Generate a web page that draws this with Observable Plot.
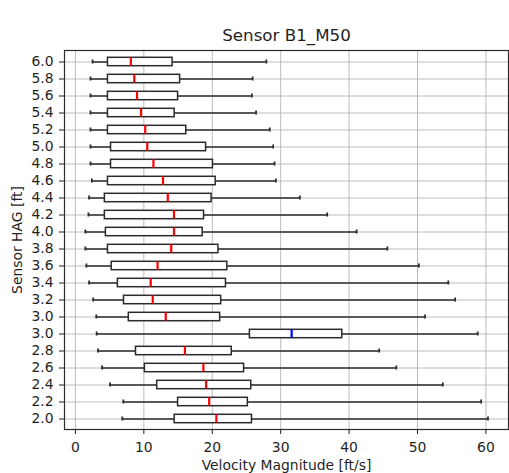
<!DOCTYPE html>
<html>
<head>
<meta charset="utf-8">
<script src="https://cdn.jsdelivr.net/npm/d3@7"></script>
<script src="https://cdn.jsdelivr.net/npm/@observablehq/plot@0.6"></script>
<style>
  html, body { margin: 0; padding: 0; background: white; }
</style>
</head>
<body>
<div id="chart"></div>
<script>
// Sensor heights (top to bottom as drawn)
const labels = ["6.0","5.8","5.6","5.4","5.2","5.0","4.8","4.6","4.4","4.2","4.0","3.8","3.6","3.4","3.2","3.0","3.0","2.8","2.6","2.4","2.2","2.0"];
const whiskerLow  = [2.5,2.2,2.2,2.2,2.2,2.2,2.2,2.4,2.0,1.9,1.45,1.45,1.6,2.0,2.6,3.05,3.1,3.3,3.9,5.05,7.0,6.85];
const quart1      = [4.75,4.75,4.75,4.75,4.75,5.2,5.2,4.75,4.3,4.3,4.45,4.75,5.3,6.2,7.1,7.8,25.5,8.85,10.15,11.95,15.0,14.5];
const medians     = [8.1,8.6,9.0,9.6,10.2,10.5,11.4,12.8,13.5,14.4,14.4,14.0,12.0,11.0,11.3,13.2,31.6,16.0,18.7,19.1,19.55,20.6];
const quart3      = [14.2,15.3,15.0,14.5,16.2,19.1,20.1,20.5,19.9,18.8,18.6,20.9,22.2,22.0,21.3,21.15,39.0,22.85,24.65,25.7,25.2,25.8];
const whiskerHigh = [27.9,25.9,25.8,26.4,28.4,28.9,29.1,29.3,32.8,36.8,41.1,45.6,50.2,54.5,55.5,51.1,58.8,44.4,46.9,53.7,59.3,60.3];
const group       = ["normal","normal","normal","normal","normal","normal","normal","normal","normal","normal","normal","normal","normal","normal","normal","normal","flagged","normal","normal","normal","normal","normal"];
const xTicks = [0, 10, 20, 30, 40, 50, 60];
const title = "Sensor B1_M50";
const xLabel = "Velocity Magnitude [ft/s]";
const yLabel = "Sensor HAG [ft]";

const rows = labels.map((label, i) => ({
  id: i, label,
  lo: whiskerLow[i], q1: quart1[i], med: medians[i], q3: quart3[i], hi: whiskerHigh[i],
  group: group[i]
}));

const ink = "#2b2b2b";
const chart = Plot.plot({
  width: 509,
  height: 473,
  marginTop: 50,
  marginBottom: 44,
  marginLeft: 64,
  marginRight: 1,
  style: { fontFamily: "DejaVu Sans", fontSize: "13.9px", color: "#1f1f1f", background: "white" },
  x: { domain: [-1.6, 63.3] },
  y: { type: "band", domain: rows.map(d => d.id), padding: 0, range: [49, 430.4] },
  color: { domain: ["normal", "flagged"], range: ["red", "blue"] },
  marks: [
    Plot.gridX(xTicks, { stroke: "#b0b0b0", strokeOpacity: 0.85, strokeWidth: 1 }),
    Plot.gridY(rows.map(d => d.id), { stroke: "#b0b0b0", strokeOpacity: 0.85, strokeWidth: 1 }),
    Plot.ruleY(rows, { y: "id", x1: "lo", x2: "q1", stroke: ink, strokeWidth: 1.5 }),
    Plot.ruleY(rows, { y: "id", x1: "q3", x2: "hi", stroke: ink, strokeWidth: 1.5 }),
    Plot.tickX(rows, { x: "lo", y: "id", insetTop: 6.5, insetBottom: 6.5, stroke: ink, strokeWidth: 1.8 }),
    Plot.tickX(rows, { x: "hi", y: "id", insetTop: 6.5, insetBottom: 6.5, stroke: ink, strokeWidth: 1.8 }),
    Plot.barX(rows, { x1: "q1", x2: "q3", y: "id", insetTop: 4.3, insetBottom: 4.3, fill: "white", stroke: ink, strokeWidth: 1.5 }),
    Plot.tickX(rows, { x: "med", y: "id", insetTop: 4.3, insetBottom: 4.3, stroke: "group", strokeWidth: 2.2 }),
    Plot.frame({ stroke: ink, strokeWidth: 1.2 }),
    Plot.axisX({ ticks: xTicks, tickSize: 5, tickPadding: 8, label: null }),
    Plot.axisY({ tickSize: 5, tickPadding: 6, tickFormat: i => labels[i], label: null }),
    Plot.text([title], { text: d => d, frameAnchor: "top", dy: -14.6, fontSize: 16.7, lineAnchor: "middle", textAnchor: "middle" }),
    Plot.text([xLabel], { text: d => d, frameAnchor: "bottom", dy: 36.2, lineAnchor: "middle", textAnchor: "middle" }),
    Plot.text([yLabel], { text: d => d, frameAnchor: "left", rotate: -90, dx: -46.8, lineAnchor: "middle", textAnchor: "middle" })
  ]
});
document.getElementById("chart").appendChild(chart);
</script>
</body>
</html>
